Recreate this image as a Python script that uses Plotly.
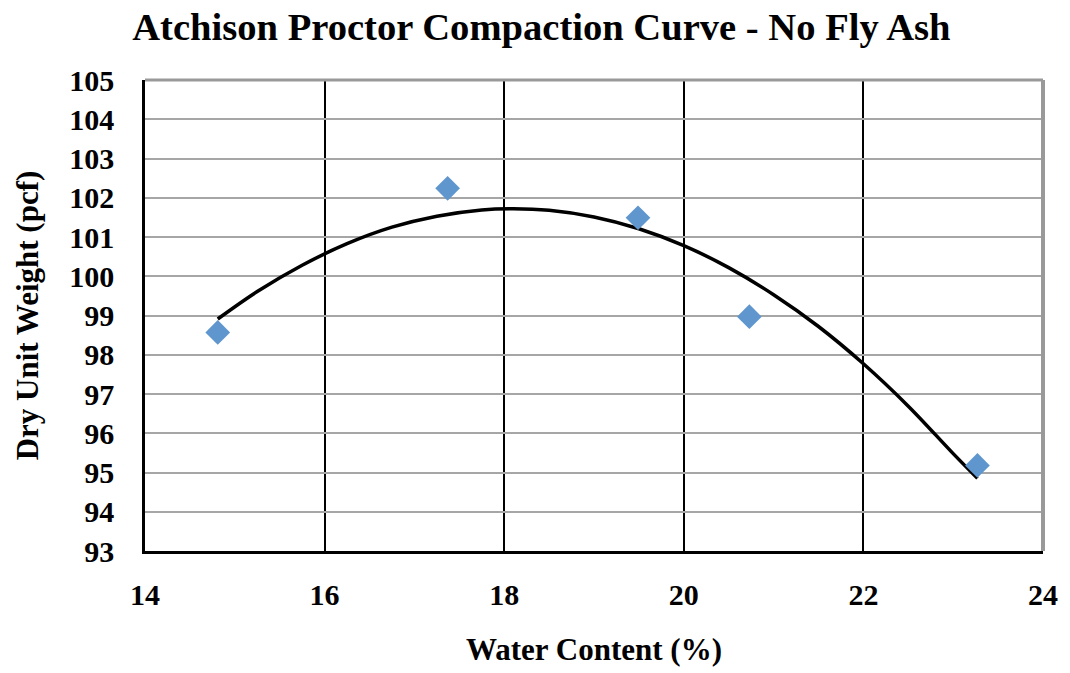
import plotly.graph_objects as go

water_content = [14.81, 17.37, 19.49, 20.73, 23.27]
dry_unit_weight = [98.57, 102.24, 101.49, 98.97, 95.18]

trend_x = [14.81, 15.25, 15.75, 16.25, 16.75, 17.25, 17.75, 18.1, 18.5, 19.0,
           19.5, 20.0, 20.5, 21.0, 21.5, 22.0, 22.5, 23.0, 23.27]
trend_y = [98.91, 99.61, 100.28, 100.83, 101.25, 101.53, 101.69, 101.72, 101.68, 101.51,
           101.21, 100.78, 100.22, 99.53, 98.72, 97.77, 96.69, 95.48, 94.85]

x_ticks = [14, 16, 18, 20, 22, 24]
y_ticks = list(range(93, 106))

FONT = "Liberation Serif"

fig = go.Figure()
fig.add_trace(go.Scatter(x=trend_x, y=trend_y, mode="lines",
                         line=dict(color="black", width=3.5, shape="spline"),
                         showlegend=False, hoverinfo="skip"))
fig.add_trace(go.Scatter(x=water_content, y=dry_unit_weight, mode="markers",
                         marker=dict(symbol="diamond", size=19, color="#5F96CE"),
                         showlegend=False))

fig.update_layout(
    width=1070, height=673,
    margin=dict(l=145, r=17, t=80, b=109),
    paper_bgcolor="white", plot_bgcolor="white",
    title=dict(text="<b>Atchison Proctor Compaction Curve - No Fly Ash</b>",
               x=0.506, xanchor="center", y=0.961, yanchor="middle",
               font=dict(family=FONT, size=38.6, color="black")),
    font=dict(family=FONT, color="black"),
)

fig.update_xaxes(
    range=[14, 24], tickvals=x_ticks, ticktext=[f"<b>{v}</b>" for v in x_ticks],
    showgrid=True, gridcolor="black", gridwidth=1.5,
    showline=True, linecolor="black", linewidth=2.5,
    ticks="outside", ticklen=15, tickcolor="rgba(0,0,0,0)",
    tickfont=dict(family=FONT, size=30, color="black"),
    title=dict(text="<b>Water Content (%)</b>", standoff=29,
               font=dict(family=FONT, size=31, color="black")),
    zeroline=False,
)
fig.update_yaxes(
    range=[93, 105], tickvals=y_ticks, ticktext=[f"<b>{v}</b>" for v in y_ticks],
    showgrid=True, gridcolor="#A6A6A6", gridwidth=1.5,
    showline=True, linecolor="black", linewidth=2.5,
    ticks="outside", ticklen=22, tickcolor="rgba(0,0,0,0)",
    tickfont=dict(family=FONT, size=30, color="black"),
    title=dict(text="<b>Dry Unit Weight (pcf)</b>", standoff=22,
               font=dict(family=FONT, size=31, color="black")),
    zeroline=False,
)

# gray top and right frame
fig.add_shape(type="line", xref="paper", yref="paper", x0=0, x1=1, y0=1, y1=1,
              line=dict(color="#999999", width=3))
fig.add_shape(type="line", xref="paper", yref="paper", x0=1, x1=1, y0=0, y1=1,
              line=dict(color="#999999", width=4))

fig.write_html("out.html", config={"displayModeBar": False},
               post_script="document.body.style.margin='0';document.body.style.overflow='hidden';")
